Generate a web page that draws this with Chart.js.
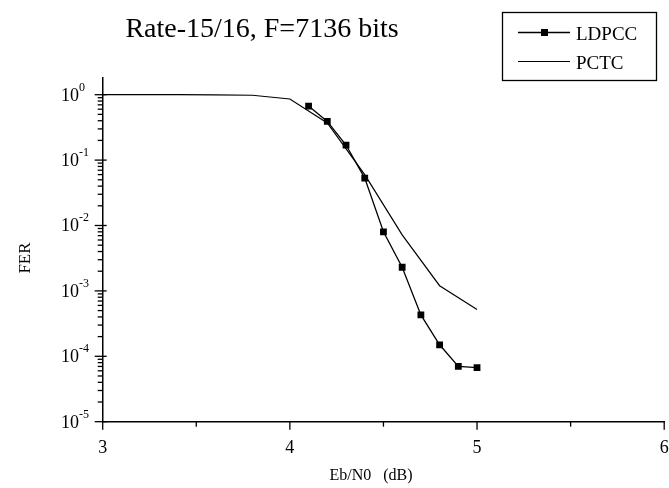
<!DOCTYPE html>
<html>
<head>
<meta charset="utf-8">
<script src="https://cdn.jsdelivr.net/npm/chart.js@4.4.1/dist/chart.umd.min.js"></script>
<style>
html, body { margin: 0; padding: 0; background: #fff; }
canvas { display: block; }
</style>
</head>
<body>
<canvas id="ferChart" width="669" height="488"></canvas>
<script>
// Eb/N0 (dB) and FER
var ldpccEbno = [4.1, 4.2, 4.3, 4.4, 4.5, 4.6, 4.7, 4.8, 4.9, 5.0];
var ldpccFer = [0.67, 0.39, 0.17, 0.053, 0.0080, 0.0023, 0.00043, 0.00015, 0.000070, 0.000067];
var pctcEbno = [3.0, 3.2, 3.4, 3.6, 3.8, 4.0, 4.2, 4.4, 4.6, 4.8, 5.0];
var pctcFer = [1.0, 1.0, 1.0, 0.995, 0.98, 0.86, 0.37, 0.06, 0.0072, 0.0012, 0.00052];
var xTicks = [3, 4, 5, 6];
var yExps = [0, -1, -2, -3, -4, -5];
var seriesNames = ['LDPCC', 'PCTC'];

var serif = '"Liberation Serif", "Times New Roman", serif';

function pairs(xs, ys) {
  return xs.map(function (x, i) { return { x: x, y: ys[i] }; });
}

var decor = {
  id: 'decor',
  afterDraw: function (chart) {
    var ctx = chart.ctx;
    var xs = chart.scales.x, ys = chart.scales.y;
    var x0 = xs.left, y0 = ys.bottom;
    ctx.save();
    ctx.strokeStyle = '#000';
    ctx.fillStyle = '#000';
    ctx.lineWidth = 1.3;

    // y axis ticks + labels
    yExps.forEach(function (e) {
      for (var m = 1; m < 10; m++) {
        var v = m * Math.pow(10, e);
        if (v > ys.max) break;
        var py = ys.getPixelForValue(v);
        ctx.beginPath();
        if (m === 1) { ctx.moveTo(x0 - 8, py); ctx.lineTo(x0 + 4, py); }
        else { ctx.moveTo(x0 - 5, py); ctx.lineTo(x0, py); }
        ctx.stroke();
      }
      var ty = ys.getPixelForValue(Math.pow(10, e));
      ctx.textAlign = 'left';
      ctx.textBaseline = 'alphabetic';
      ctx.font = '18px ' + serif;
      ctx.fillText('10', 61, ty + 6);
      ctx.font = '12px ' + serif;
      ctx.fillText(String(e), 79, ty - 4);
    });

    // x axis ticks + labels
    xTicks.forEach(function (t, i) {
      var px = xs.getPixelForValue(t);
      ctx.beginPath();
      ctx.moveTo(px, y0); ctx.lineTo(px, y0 + 8);
      ctx.stroke();
      if (i < xTicks.length - 1) {
        var mx = xs.getPixelForValue((t + xTicks[i + 1]) / 2);
        ctx.beginPath();
        ctx.moveTo(mx, y0); ctx.lineTo(mx, y0 + 5);
        ctx.stroke();
      }
      ctx.font = '18px ' + serif;
      ctx.textAlign = 'center';
      ctx.fillText(String(t), px, y0 + 31);
    });

    // titles
    ctx.font = '28px ' + serif;
    ctx.textAlign = 'center';
    ctx.fillText('Rate-15/16, F=7136 bits', 262, 37);
    ctx.font = '16px ' + serif;
    ctx.fillText('Eb/N0   (dB)', 371, 480);
    ctx.save();
    ctx.translate(30, 258);
    ctx.rotate(-Math.PI / 2);
    ctx.font = '17px ' + serif;
    ctx.fillText('FER', 0, 0);
    ctx.restore();

    // legend
    ctx.lineWidth = 1.3;
    ctx.strokeRect(502.5, 12.5, 154, 68);
    var rows = [32.5, 61.5];
    chart.data.datasets.forEach(function (ds, i) {
      var ly = rows[i];
      ctx.strokeStyle = ds.borderColor;
      ctx.lineWidth = ds.borderWidth;
      ctx.beginPath();
      ctx.moveTo(518, ly); ctx.lineTo(570, ly);
      ctx.stroke();
      if (ds.pointRadius > 0) {
        ctx.fillRect(541, ly - 3.5, 7, 7);
      }
      ctx.font = '19px ' + serif;
      ctx.textAlign = 'left';
      ctx.fillText(ds.label, 576, ly + 7);
    });
    ctx.restore();
  }
};

new Chart(document.getElementById('ferChart'), {
  type: 'line',
  data: {
    datasets: [{
      label: seriesNames[0],
      data: pairs(ldpccEbno, ldpccFer),
      borderColor: '#000',
      backgroundColor: '#000',
      borderWidth: 1.3,
      pointStyle: 'rect',
      pointRadius: 4.8,
      pointBorderWidth: 0,
      pointBackgroundColor: '#000',
      tension: 0,
      fill: false
    }, {
      label: seriesNames[1],
      data: pairs(pctcEbno, pctcFer),
      borderColor: '#000',
      borderWidth: 1.2,
      pointRadius: 0,
      tension: 0,
      fill: false
    }]
  },
  options: {
    responsive: false,
    animation: false,
    layout: { padding: { top: 78, right: 1.7, left: 0, bottom: 0 } },
    plugins: {
      legend: { display: false },
      title: { display: false },
      tooltip: { enabled: false }
    },
    scales: {
      x: {
        type: 'linear',
        min: 3,
        max: 6,
        ticks: { display: false },
        grid: { display: false },
        border: { display: true, color: '#000', width: 1.5 },
        afterFit: function (s) { s.height = 66.3; }
      },
      y: {
        type: 'logarithmic',
        min: 0.00001,
        max: 1.8,
        ticks: { display: false },
        grid: { display: false },
        border: { display: true, color: '#000', width: 1.5 },
        afterFit: function (s) { s.width = 102.7; }
      }
    }
  },
  plugins: [decor]
});
</script>
</body>
</html>
